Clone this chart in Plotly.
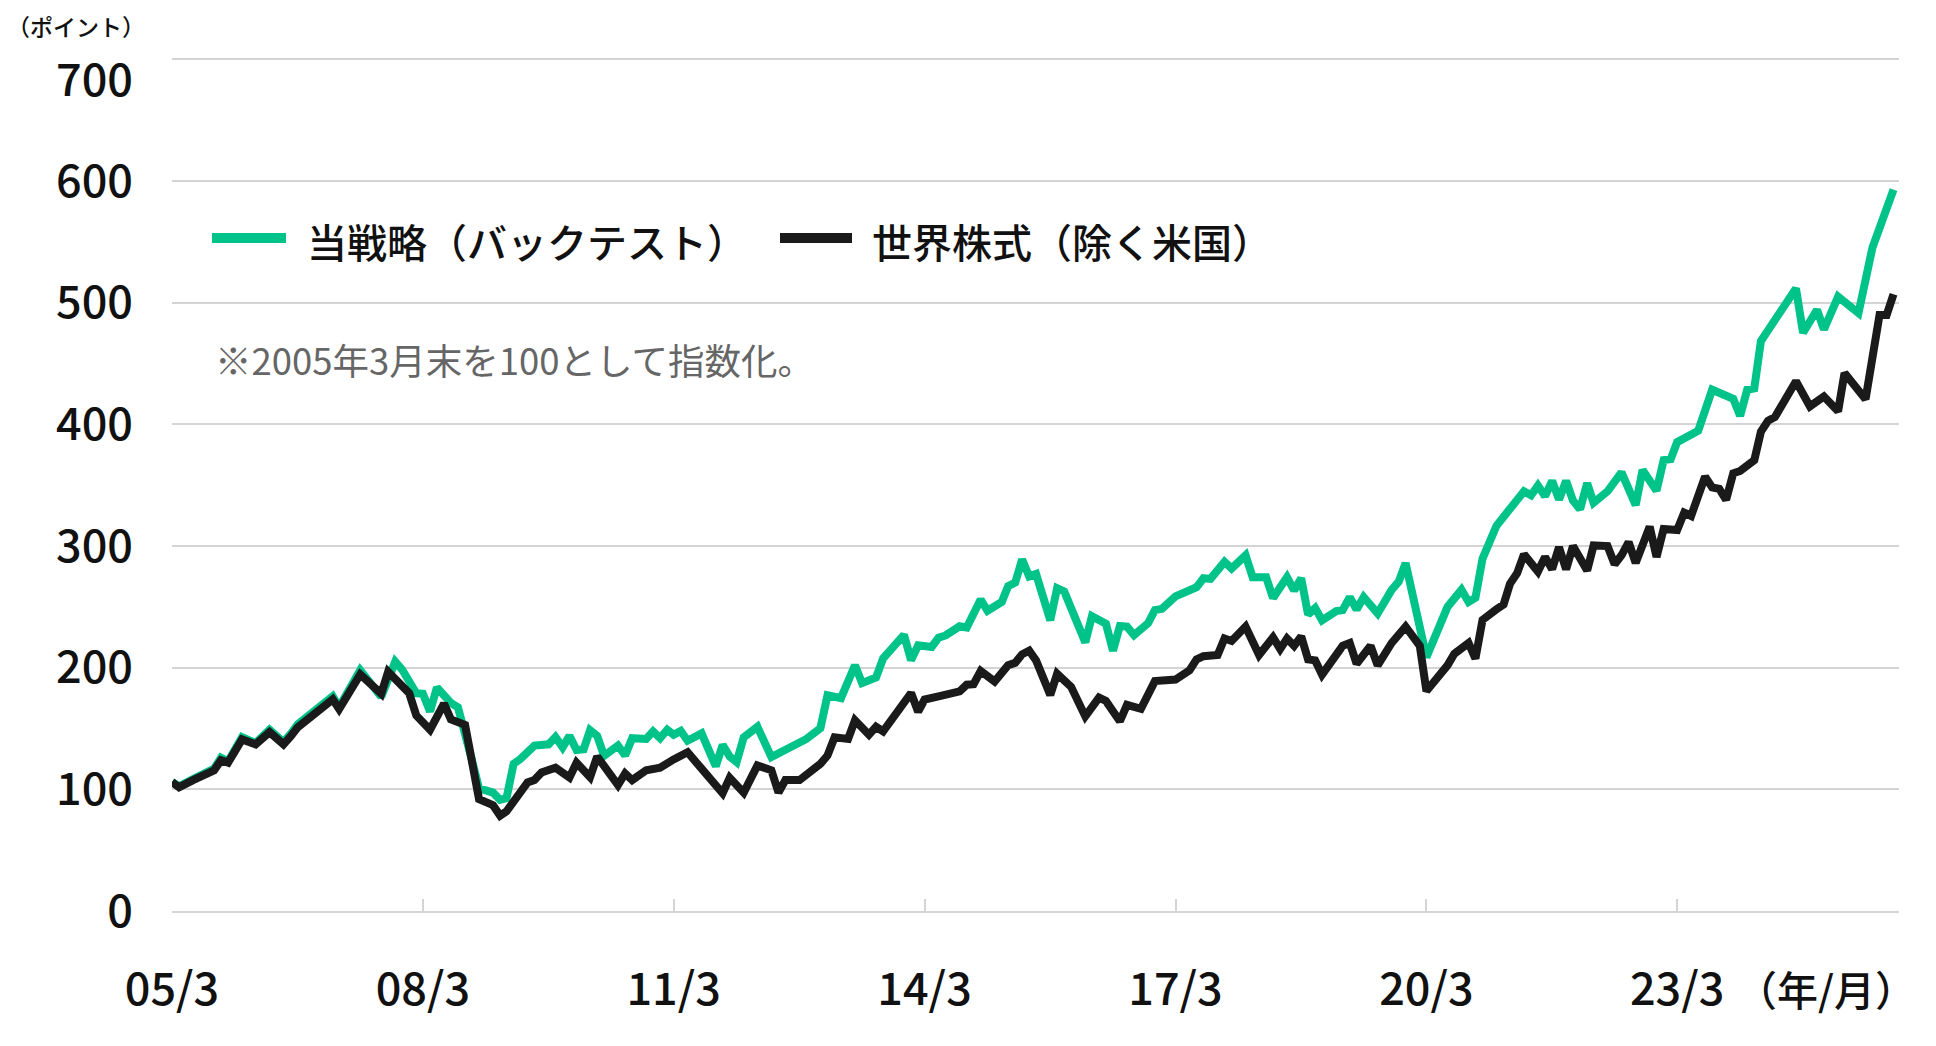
import plotly.graph_objects as go
from datetime import date

# months counted from 2005-03 (0 = 2005/3)
strategy_months = [0, 1, 3, 6, 7, 8, 10, 12, 14, 16, 17, 18, 23, 24, 27, 30, 32, 33, 35, 36, 37, 38, 40, 41, 43, 44, 46, 47, 48, 49, 50, 52, 54, 55, 56, 57, 58, 59, 60, 61, 62, 64, 65, 66, 68, 69, 70, 71, 72, 73, 74, 76, 78, 79, 80, 81, 82, 84, 86, 88, 91, 93, 94, 96, 98, 99, 101, 102, 105, 106, 107, 109, 110, 111, 113, 114, 116, 117, 119, 120, 121, 122, 123, 124, 126, 127, 128, 131, 132, 134, 135, 136, 137, 138, 140, 141, 142, 144, 146, 147, 148, 149, 151, 152, 154, 155, 157, 158, 160, 161, 162, 163, 164, 165, 167, 168, 169, 170, 171, 173, 175, 176, 177, 180, 183, 185, 186, 187, 188, 190, 194, 195, 196, 197, 198, 199, 200, 201, 202, 203, 204, 206, 208, 210, 211, 213, 214, 215, 216, 219, 221, 224, 225, 226, 227, 228, 233, 234, 236, 237, 239, 242, 244, 247]
strategy_values = [106, 102.5, 108.5, 117, 126, 123, 143, 138, 149, 139, 145.5, 153.5, 176.5, 167.5, 198, 176, 205, 198.5, 179, 178.6, 164, 183.7, 171, 167.5, 124, 100.8, 97.3, 91.4, 92.7, 121, 125, 136, 137, 143, 134.6, 144, 132.4, 133, 148.6, 144, 127.5, 136, 127.8, 142, 141.4, 147.6, 142, 149, 144.9, 148, 140, 146, 119, 136.5, 127, 122.4, 142.7, 151.4, 126.5, 131.9, 141.4, 150.3, 177.3, 175, 202, 187.3, 191.9, 207.6, 227, 206.2, 218.4, 217, 224.6, 226.5, 234, 233, 256, 246.8, 254, 267, 270, 289, 275, 277, 239, 265.4, 262.7, 220.8, 242.4, 236.2, 214, 234.3, 233.8, 226.8, 236.5, 247.3, 248.4, 258.6, 264, 266.2, 273.5, 273, 287, 281.6, 292.4, 274.3, 274.3, 257.3, 274.3, 263.5, 273.5, 243.8, 249, 239, 246.5, 247.3, 258, 247.8, 258, 244.6, 264, 270.8, 286, 208.6, 250, 264, 254, 257.4, 289.7, 316.7, 345, 341.8, 349.8, 341, 353.6, 338.3, 353.6, 337.4, 330.2, 351.7, 335.6, 345, 360.6, 333.7, 362.5, 345.5, 370.6, 371.4, 385.4, 394.8, 428.5, 421, 407, 428.5, 429.6, 468.6, 511.7, 475.3, 494.2, 478, 505, 491.5, 545.3, 593]

world_months = [0, 1, 3, 6, 7, 8, 10, 12, 14, 16, 17, 18, 23, 24, 27, 30, 31, 33, 34, 35, 37, 39, 40, 42, 43, 44, 46, 47, 48, 51, 52, 53, 55, 57, 58, 60, 61, 64, 65, 66, 68, 70, 72, 74, 76, 79, 80, 82, 84, 86, 87, 88, 90, 93, 94, 95, 97, 98, 100, 101, 102, 104, 106, 107, 108, 110, 113, 114, 115, 116, 118, 120, 121, 122, 123, 124, 126, 127, 129, 131, 133, 134, 136, 137, 139, 141, 144, 146, 147, 148, 150, 151, 152, 154, 156, 158, 159, 160, 161, 162, 163, 164, 165, 168, 169, 170, 172, 173, 175, 177, 179, 180, 183, 184, 186, 187, 188, 190, 191, 192, 193, 194, 196, 197, 198, 199, 200, 201, 203, 204, 206, 207, 208, 209, 210, 212, 213, 214, 216, 217, 218, 220, 221, 222, 223, 224, 225, 227, 228, 229, 230, 233, 235, 237, 239, 240, 243, 245, 246, 247]
world_values = [106, 101.6, 107.6, 115.7, 124, 122, 141, 137, 147, 137, 143.5, 151, 174, 166, 194.5, 178.6, 196.7, 185, 179, 160.7, 149, 170.5, 157.5, 153, 125, 92, 87, 78.4, 82, 105.7, 107.6, 113.8, 117.8, 109.7, 121.9, 110, 127, 103.5, 113, 107.6, 115.7, 117.8, 124.6, 130.5, 117, 96.8, 109.5, 97.3, 119.7, 115.7, 97.3, 107.6, 107.6, 121, 127.8, 142.7, 141.4, 156.8, 144.9, 151.4, 147.6, 163, 179.2, 163.8, 173.8, 176.5, 180.5, 186, 186.5, 197.3, 188.6, 202, 204, 211, 214, 206, 177.6, 195, 184.3, 160, 175.4, 172.7, 156, 169.5, 166.2, 189, 190.3, 197.8, 206.8, 209.5, 210.5, 224, 222, 233.8, 210.5, 224.9, 215.4, 224, 218, 225.7, 206.8, 206, 194.3, 218, 220.3, 203.2, 218, 201.9, 220.3, 233.8, 218, 180.8, 201.9, 211.4, 220.3, 207.5, 239.3, 248, 252, 269, 277.6, 293.2, 279, 291, 281, 299, 280.8, 300, 279.8, 300.5, 300, 285, 292.4, 303.2, 286.2, 316, 291, 314, 313.2, 327.5, 324.8, 357, 348.2, 347, 338, 359.8, 361.7, 370.6, 394, 403, 406, 435.5, 414.8, 422.9, 410.8, 442.2, 420.7, 490, 490, 507]

tick_labels = ["05/3", "08/3", "11/3", "14/3", "17/3", "20/3", "23/3"]
tick_months = [0, 36, 72, 108, 144, 180, 216]
y_ticks = [0, 100, 200, 300, 400, 500, 600, 700]
y_tick_text = ["0", "100", "200", "300", "400", "500", "600", ""]   # 700 is placed as an annotation below
top_label = "700"

series_names = ["当戦略（バックテスト）", "世界株式（除く米国）"]
GREEN = "#00C389"
BLACK = "#1A1A1A"
FONT = "Noto Sans CJK JP"


def to_date(m):
    total = 2005 * 12 + 2 + m
    return date(total // 12, total % 12 + 1, 1).isoformat()


fig = go.Figure()
fig.add_trace(go.Scatter(
    x=[to_date(m) for m in strategy_months], y=strategy_values,
    mode="lines", name=series_names[0],
    line=dict(color=GREEN, width=8), showlegend=False))
fig.add_trace(go.Scatter(
    x=[to_date(m) for m in world_months], y=world_values,
    mode="lines", name=series_names[1],
    line=dict(color=BLACK, width=8), showlegend=False))

# page has an 8px body margin: figure coords = page coords - 8
OFF = 8
W, H = 1936 - 2 * OFF, 1046 - 2 * OFF
Y_MAX = 702
ZERO_Y, TOP700_Y = 911, 59.5                    # page y of value 0 and 700
PLOT_L, PLOT_R = 172, 1899                      # page x of plot area
PLOT_B = ZERO_Y
PLOT_T = ZERO_Y - (ZERO_Y - TOP700_Y) * Y_MAX / 700
L, T = PLOT_L - OFF, PLOT_T - OFF
R = W - (PLOT_R - OFF)
B = H - (PLOT_B - OFF)
PW, PH = PLOT_R - PLOT_L, PLOT_B - PLOT_T


def px(x):
    return (x - PLOT_L) / PW


def py(y):
    return (PLOT_B - y) / PH


shapes = [
    dict(type="line", xref="paper", yref="paper", x0=px(212), x1=px(286), y0=py(238), y1=py(238),
         line=dict(color=GREEN, width=10)),
    dict(type="line", xref="paper", yref="paper", x0=px(780), x1=px(852), y0=py(238), y1=py(238),
         line=dict(color=BLACK, width=10)),
]

annotations = [
    dict(text=series_names[0], xref="paper", yref="paper", x=px(305), y=py(241),
         xanchor="left", yanchor="middle", showarrow=False,
         font=dict(size=40, color="#111", family=FONT, weight=500)),
    dict(text=series_names[1], xref="paper", yref="paper", x=px(870), y=py(241),
         xanchor="left", yanchor="middle", showarrow=False,
         font=dict(size=40, color="#111", family=FONT, weight=500)),
    dict(text="※2005年3月末を100として指数化。", xref="paper", yref="paper", x=px(213), y=py(360),
         xanchor="left", yanchor="middle", showarrow=False,
         font=dict(size=36.5, color="#666666", family=FONT)),
    dict(text="（ポイント）", xref="paper", yref="paper", x=px(6), y=py(8),
         xanchor="left", yanchor="top", showarrow=False, borderpad=0,
         font=dict(size=23, color="#111", family=FONT, weight=500)),
    dict(text=top_label, xref="paper", yref="paper", x=px(134), y=py(77),
         xanchor="right", yanchor="middle", showarrow=False, borderpad=0,
         font=dict(size=45, color="#111", family=FONT, weight=500)),
    dict(text="（年/月）", xref="paper", yref="paper", x=px(1826), y=py(988),
         xanchor="center", yanchor="middle", showarrow=False,
         font=dict(size=41, color="#111", family=FONT, weight=500)),
]

fig.update_layout(
    width=W, height=H,
    margin=dict(l=L, r=R, t=T, b=B, pad=0),
    paper_bgcolor="white", plot_bgcolor="white",
    font=dict(family=FONT, color="#111"),
    shapes=shapes, annotations=annotations,
    xaxis=dict(
        type="date",
        range=["2005-03-01", "2025-10-25"],
        tickvals=[to_date(m) for m in tick_months], ticktext=tick_labels,
        showgrid=False, zeroline=False,
        showline=True, linecolor="#D4D4D4", linewidth=2,
        ticks="inside", ticklen=12, tickwidth=2, tickcolor="#D4D4D4",
        tickfont=dict(size=45, color="#111", family=FONT, weight=500),
        ticklabelstandoff=38,
    ),
    yaxis=dict(
        range=[0, Y_MAX], tickvals=y_ticks, ticktext=y_tick_text,
        showgrid=True, gridcolor="#D4D4D4", gridwidth=2,
        zeroline=False, showline=False, ticks="",
        tickfont=dict(size=45, color="#111", family=FONT, weight=500),
        ticklabelstandoff=38,
    ),
)

fig.write_html("out.html")
